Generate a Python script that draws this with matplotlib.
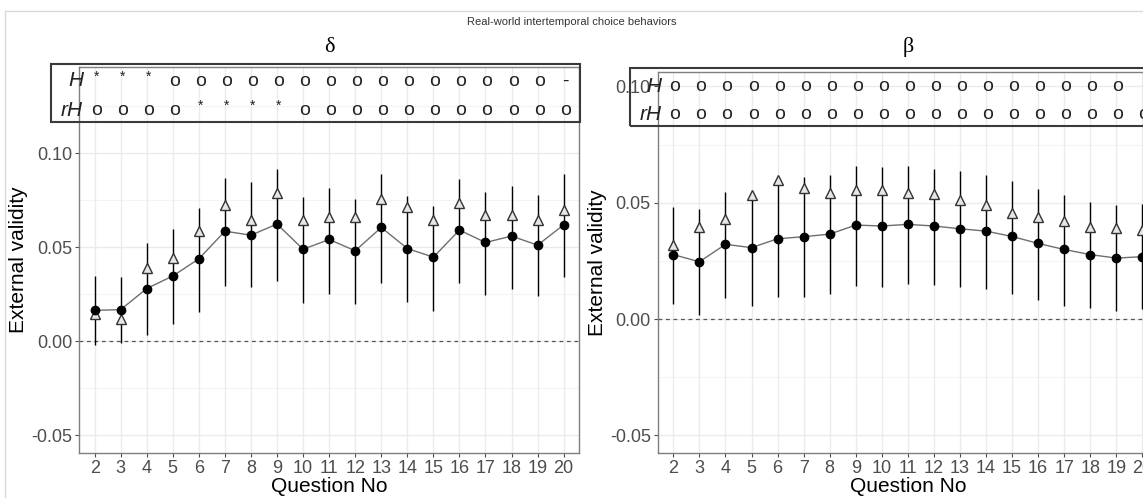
import numpy as np
import matplotlib
matplotlib.use('Agg')
import matplotlib.pyplot as plt
from matplotlib.patches import Rectangle
from matplotlib.lines import Line2D
plt.rcParams['font.family'] = ['Liberation Sans', 'DejaVu Sans']

# data
questions = list(range(2, 21))

delta_mean = [0.0163, 0.0167, 0.0279, 0.0346, 0.0437, 0.0584, 0.0563, 0.0622, 0.0488, 0.0540,
              0.0480, 0.0604, 0.0492, 0.0446, 0.0590, 0.0524, 0.0558, 0.0510, 0.0618]
delta_tri = [0.0142, 0.0115, 0.0391, 0.0442, 0.0583, 0.0721, 0.0643, 0.0787, 0.0641, 0.0661,
             0.0661, 0.0758, 0.0714, 0.0645, 0.0732, 0.0668, 0.0668, 0.0643, 0.0698]
delta_lo = [-0.0021, -0.0009, 0.0032, 0.0091, 0.0155, 0.0295, 0.0286, 0.0321, 0.0201, 0.0252,
            0.0195, 0.0311, 0.0206, 0.0160, 0.0307, 0.0247, 0.0275, 0.0238, 0.0341]
delta_hi = [0.0346, 0.0339, 0.0519, 0.0595, 0.0709, 0.0867, 0.0844, 0.0913, 0.0764, 0.0815,
            0.0758, 0.0890, 0.0771, 0.0718, 0.0861, 0.0792, 0.0824, 0.0778, 0.0890]
delta_H = ['*', '*', '*'] + ['o'] * 15 + ['-']
delta_rH = ['o'] * 4 + ['*'] * 4 + ['o'] * 11

beta_mean = [0.0277, 0.0246, 0.0321, 0.0307, 0.0345, 0.0354, 0.0365, 0.0404, 0.0400, 0.0407,
             0.0400, 0.0388, 0.0378, 0.0355, 0.0325, 0.0299, 0.0277, 0.0262, 0.0268]
beta_tri = [0.0319, 0.0397, 0.0428, 0.0534, 0.0599, 0.0563, 0.0540, 0.0556, 0.0554, 0.0544,
            0.0539, 0.0511, 0.0490, 0.0458, 0.0437, 0.0421, 0.0395, 0.0391, 0.0382]
beta_lo = [0.0066, 0.0017, 0.0090, 0.0057, 0.0093, 0.0096, 0.0109, 0.0142, 0.0139, 0.0150,
           0.0146, 0.0139, 0.0128, 0.0109, 0.0083, 0.0057, 0.0046, 0.0036, 0.0043]
beta_hi = [0.0480, 0.0474, 0.0546, 0.0534, 0.0599, 0.0612, 0.0620, 0.0658, 0.0653, 0.0658,
           0.0646, 0.0635, 0.0620, 0.0595, 0.0560, 0.0534, 0.0504, 0.0489, 0.0494]
beta_H = ['o'] * 18 + ['-']
beta_rH = ['o'] * 19

y_ticks = [-0.05, 0.00, 0.05, 0.10]
y_tick_labels = ['-0.05', '0.00', '0.05', '0.10']

W, H = 1143, 498
fig = plt.figure(figsize=(W / 100, H / 100), dpi=100)
fig.patch.set_facecolor('white')


def px_axes(x0, y0, x1, y1):
    # pixel box (top-left origin) -> figure axes
    return fig.add_axes([x0 / W, 1 - y1 / H, (x1 - x0) / W, (y1 - y0) / H])


panels = [
    dict(title='δ', box=(79, 66.7, 579.3, 452.7), ylim=(-0.0594, 0.1459),
         mean=delta_mean, tri=delta_tri, lo=delta_lo, hi=delta_hi, rowH=delta_H, rowrH=delta_rH,
         strip=(50.7, 64.3, 580, 121.7), yH=81, yrH=110),
    dict(title='β', box=(657.7, 72.3, 1158, 452.7), ylim=(-0.0575, 0.1061),
         mean=beta_mean, tri=beta_tri, lo=beta_lo, hi=beta_hi, rowH=beta_H, rowrH=beta_rH,
         strip=(630, 67.7, 1200, 126), yH=86.7, yrH=114.3),
]

for p in panels:
    ax = px_axes(*p['box'])
    ax.set_xlim(1.4, 20.6)
    ax.set_ylim(*p['ylim'])

    # grid like ggplot theme_bw
    for yy in [-0.025, 0.025, 0.075, 0.125]:
        ax.axhline(yy, color='#f4f4f4', lw=0.8, zorder=0)
    for yy in y_ticks:
        ax.axhline(yy, color='#ebebeb', lw=1.0, zorder=0)
    for xx in questions:
        ax.axvline(xx, color='#ebebeb', lw=1.0, zorder=0)

    ax.axhline(0, color='#555555', lw=0.9, ls=(0, (3, 3)), zorder=1)

    ax.vlines(questions, p['lo'], p['hi'], color='black', lw=1.0, zorder=2)
    ax.plot(questions, p['mean'], color='#6e6e6e', lw=1.0, zorder=2)
    ax.plot(questions, p['tri'], ls='none', marker='^', ms=7, mfc='#e6e6e6', mec='#333333',
            mew=1.0, zorder=3)
    ax.plot(questions, p['mean'], ls='none', marker='o', ms=6, color='black', zorder=4)

    ax.set_xticks(questions)
    ax.set_xticklabels([str(q) for q in questions])
    ax.set_yticks(y_ticks)
    ax.set_yticklabels(y_tick_labels)
    ax.tick_params(colors='#4d4d4d', labelsize=13, length=3, width=0.8, pad=2)
    for s in ax.spines.values():
        s.set_color('#7f7f7f')
        s.set_linewidth(1.0)
    ax.set_xlabel('Question No', fontsize=15, labelpad=0)
    ax.set_ylabel('External validity', fontsize=15, labelpad=2)

    # annotation table on top of the panel
    x0, y0, x1, y1 = p['strip']
    fig.add_artist(Rectangle((x0 / W, 1 - y1 / H), (x1 - x0) / W, (y1 - y0) / H,
                             transform=fig.transFigure, fill=False, ec='#3a3a3a', lw=1.5,
                             zorder=5))
    left_px = p['box'][0] + 4
    for lab, yy, row in [('H', p['yH'], p['rowH']), ('rH', p['yrH'], p['rowrH'])]:
        fig.text(left_px / W, 1 - yy / H, lab, ha='right', va='center', fontsize=15,
                 style='italic', color='#222222')
        ty = (p['box'][3] - yy) / (p['box'][3] - p['box'][1])
        for q, sym in zip(questions, row):
            fs = 10 if sym == '*' else 14
            dy = 0.012 if sym == '*' else 0
            ax.text(q + 0.06, ty + dy, sym, transform=ax.get_xaxis_transform(), ha='center',
                    va='center', fontsize=fs, color='#222222', clip_on=False)

    cx = (p['box'][0] + min(p['box'][2], 1158)) / 2
    fig.text(cx / W, 1 - 47 / H, p['title'], ha='center', va='center', fontsize=16,
             family=['Liberation Serif', 'DejaVu Serif'])

fig.text(572 / W, 1 - 22 / H, 'Real-world intertemporal choice behaviors', ha='center',
         va='center', fontsize=8, color='#333333')

# faint frame of the original figure
fig.add_artist(Line2D([5.3 / W, 5.3 / W], [0, 1 - 11 / H], transform=fig.transFigure,
                      color='#d9d9d9', lw=1.0))
fig.add_artist(Line2D([5.3 / W, 1], [1 - 11 / H, 1 - 11 / H], transform=fig.transFigure,
                      color='#d9d9d9', lw=1.0))

fig.savefig('out.png', dpi=100)
plt.close()
